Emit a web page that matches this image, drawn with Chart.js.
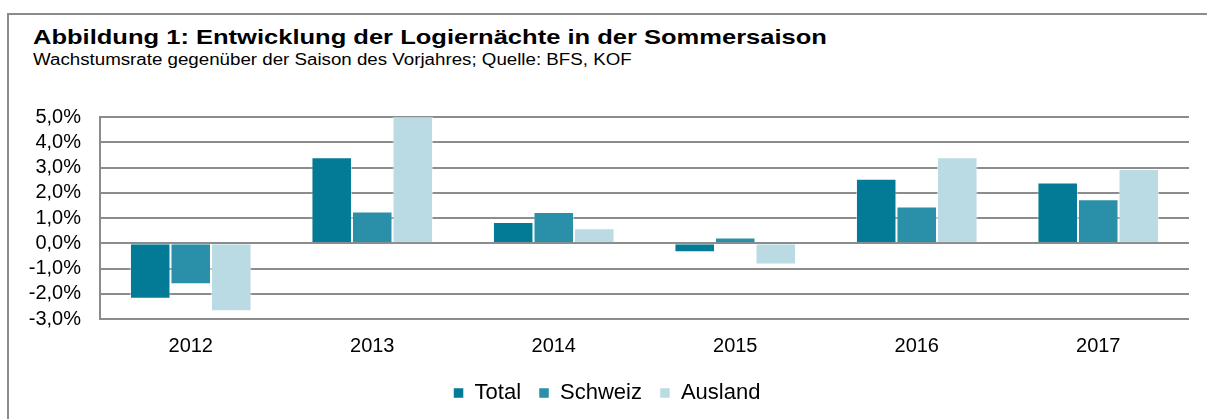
<!DOCTYPE html>
<html lang="de">
<head>
<meta charset="utf-8">
<title>Logiernächte Sommersaison</title>
<script src="https://cdn.jsdelivr.net/npm/chart.js@4.4.1/dist/chart.umd.min.js"></script>
<style>
    html, body {
        margin: 0;
        padding: 0;
        background: #ffffff;
        overflow: hidden;
    }
    .frame {
        position: absolute;
        left: 7px;
        top: 13px;
        width: 1400px;
        height: 600px;
        border-left: 2px solid #8c8c8c;
        border-top: 2px solid #8c8c8c;
    }
    .heading {
        position: absolute;
        left: 33px;
        margin: 0;
        white-space: nowrap;
        line-height: 1;
        color: #000000;
        font-family: 'Liberation Sans', Arial, sans-serif;
        transform-origin: 0 0;
    }
    .heading.title {
        top: 26px;
        font-size: 21px;
        font-weight: bold;
        transform: scaleX(1.215);
    }
    .heading.subtitle {
        top: 52px;
        font-size: 16px;
        font-weight: normal;
        transform: scaleX(1.17);
    }
    .chart-wrap {
        position: absolute;
        left: 0;
        top: 0;
        width: 1207px;
        height: 419px;
    }
</style>
</head>
<body>
<div class="frame"></div>
<h1 class="heading title">Abbildung 1: Entwicklung der Logiernächte in der Sommersaison</h1>
<p class="heading subtitle">Wachstumsrate gegenüber der Saison des Vorjahres; Quelle: BFS, KOF</p>
<div class="chart-wrap">
    <canvas id="chart"></canvas>
</div>
<script>
// Data
const years = ['2012', '2013', '2014', '2015', '2016', '2017'];
const total = [-2.2, 3.41, 0.84, -0.36, 2.55, 2.41];
const schweiz = [-1.62, 1.26, 1.24, 0.23, 1.46, 1.74];
const ausland = [-2.69, 5.0, 0.59, -0.84, 3.41, 2.94];

const colors = {
    total: '#037a96',
    schweiz: '#2a8fa8',
    ausland: '#badbe3',
    grid: '#8c8c8c'
};

Chart.defaults.font.family = "'Liberation Sans', Arial, sans-serif";
Chart.defaults.color = '#000000';

// Format axis values like 1,0%
function percent(value) {
    return value.toFixed(1).replace('.', ',') + '%';
}

const ctx = document.getElementById('chart');

new Chart(ctx, {
    type: 'bar',
    data: {
        labels: years,
        datasets: [
            {
                label: 'Total',
                data: total,
                backgroundColor: colors.total,
                borderColor: 'rgba(255, 255, 255, 0.5)',
                borderWidth: 1
            },
            {
                label: 'Schweiz',
                data: schweiz,
                backgroundColor: colors.schweiz,
                borderColor: 'rgba(255, 255, 255, 0.5)',
                borderWidth: 1
            },
            {
                label: 'Ausland',
                data: ausland,
                backgroundColor: colors.ausland,
                borderColor: 'rgba(255, 255, 255, 0.5)',
                borderWidth: 1
            }
        ]
    },
    options: {
        responsive: true,
        maintainAspectRatio: false,
        animation: false,
        datasets: {
            bar: {
                categoryPercentage: 0.67,
                barPercentage: 1.0
            }
        },
        layout: {
            padding: { left: 25, right: 18, top: 117, bottom: 5 }
        },
        scales: {
            x: {
                grid: { display: false },
                border: { display: false },
                ticks: {
                    font: { size: 20 },
                    padding: 7
                },
                afterFit(axis) {
                    axis.height = 45;
                }
            },
            y: {
                min: -3,
                max: 5,
                ticks: {
                    stepSize: 1,
                    autoSkip: false,
                    font: { size: 20 },
                    padding: 19,
                    callback: (value) => percent(value)
                },
                grid: {
                    color: colors.grid,
                    lineWidth: 2,
                    drawTicks: false
                },
                border: {
                    display: true,
                    color: colors.grid,
                    width: 2
                },
                afterFit(axis) {
                    axis.width = 75;
                }
            }
        },
        plugins: {
            title: { display: false },
            legend: {
                position: 'bottom',
                labels: {
                    boxWidth: 10,
                    boxHeight: 10,
                    padding: 18,
                    font: { size: 22 }
                }
            },
            tooltip: { enabled: false }
        }
    }
});
</script>
</body>
</html>
